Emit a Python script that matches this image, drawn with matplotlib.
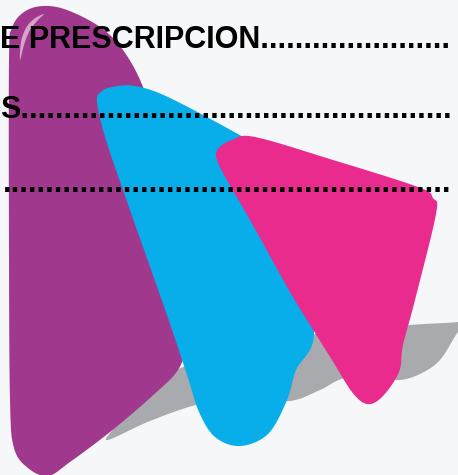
import numpy as np
import matplotlib
matplotlib.use("Agg")
import matplotlib.pyplot as plt
from matplotlib.patches import Polygon

# ---- shape outlines (image pixel coordinates, y downwards) ----
purple_outline = [(9, 60), (12, 28), (24, 12), (43, 6), (67, 10), (100, 27), (123, 50), (143, 87),
                  (158, 140), (172, 230), (180, 300), (184, 345), (178, 370), (150, 398), (110, 432),
                  (70, 462), (48, 476), (28, 468), (14, 448), (10, 400), (9, 250)]
purple_highlight = [(20, 60), (21, 42), (26, 28), (34, 19), (44, 14), (37, 21), (29, 32), (24, 45)]
blue_outline = [(97, 102), (101, 92), (112, 87), (135, 86), (170, 98), (245, 138), (262, 150),
                (300, 250), (314, 334), (296, 370), (287, 400), (268, 434), (240, 446),
                (215, 437), (199, 412), (188, 378), (168, 318), (130, 210), (106, 140)]
pink_outline = [(217, 160), (218, 149), (232, 140), (255, 137), (333, 160), (418, 187), (433, 198),
                (436, 214), (415, 300), (403, 345), (399, 372), (382, 397), (367, 404),
                (352, 392), (332, 360), (312, 328), (290, 292), (250, 220), (228, 182)]
grey_outline = [(108, 440), (150, 421), (200, 404), (250, 398), (290, 401), (320, 390), (345, 378),
                (380, 378), (400, 380), (420, 374), (440, 360), (458, 332), (472, 318),
                (458, 322), (410, 325), (330, 332), (250, 345), (185, 366), (160, 384),
                (133, 404), (114, 428)]

text_heads = ["E PRESCRIPCION", "S", ""]
text_x = [0, 0, 3]
text_baseline = [48, 118, 192]

W, H = 458, 475


def catmull_closed(pts, n=16):
    p = np.asarray(pts, float)
    m = len(p)
    out = []
    for i in range(m):
        p0, p1, p2, p3 = p[(i - 1) % m], p[i], p[(i + 1) % m], p[(i + 2) % m]
        t = np.linspace(0, 1, n, endpoint=False)[:, None]
        t2, t3 = t * t, t * t * t
        seg = 0.5 * ((2 * p1) + (-p0 + p2) * t + (2 * p0 - 5 * p1 + 4 * p2 - p3) * t2
                     + (-p0 + 3 * p1 - 3 * p2 + p3) * t3)
        out.append(seg)
    return np.vstack(out)


fig = plt.figure(figsize=(W / 100, H / 100), dpi=100)
fig.patch.set_facecolor("#f6f7f9")
ax = fig.add_axes([0, 0, 1, 1])
ax.set_xlim(0, W)
ax.set_ylim(H, 0)
ax.axis("off")
ax.set_facecolor("#f6f7f9")

for pts, col, z in [(grey_outline, "#a8aaad", 1), (purple_outline, "#a0398d", 2),
                    (purple_highlight, "#d7a3cb", 2.5), (blue_outline, "#07aee9", 3),
                    (pink_outline, "#ea2b8e", 4)]:
    ax.add_patch(Polygon(catmull_closed(pts), closed=True, facecolor=col,
                         edgecolor="none", zorder=z))

renderer = fig.canvas.get_renderer()
for head, x, y in zip(text_heads, text_x, text_baseline):
    n = 70
    t = ax.text(x, y, head + "." * n, fontsize=22, fontweight="bold", family="Liberation Sans",
                color="black", ha="left", va="baseline", zorder=10)
    while n > 0 and t.get_window_extent(renderer).x1 > W - 0.5:
        n -= 1
        t.set_text(head + "." * n)

fig.savefig("out.png", dpi=100, facecolor=fig.get_facecolor())
